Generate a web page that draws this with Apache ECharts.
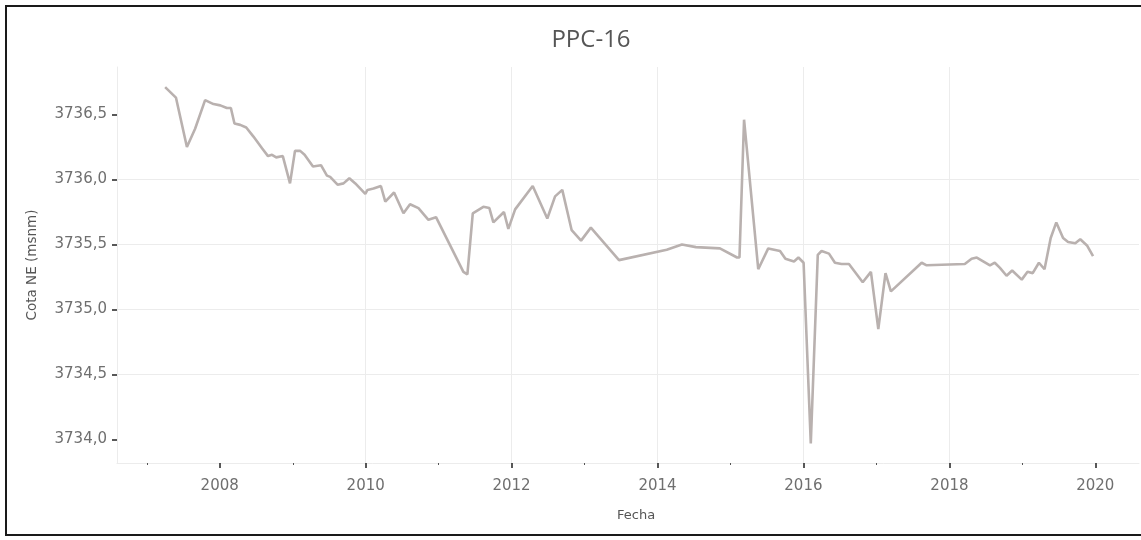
<!DOCTYPE html>
<html>
<head>
<meta charset="utf-8">
<title>PPC-16</title>
<script src="https://cdn.jsdelivr.net/npm/echarts@6/dist/echarts.min.js"></script>
<style>
  html, body { margin: 0; padding: 0; background: #ffffff; }
  #chart { width: 1141px; height: 540px; }
</style>
</head>
<body>
<div id="chart"></div>
<script>
// Piezometer PPC-16: water level elevation (Cota NE, msnm) over time
const fechas = [
  '2007-04-03','2007-05-27','2007-07-21','2007-08-31','2007-10-20','2007-12-01',
  '2008-01-04','2008-02-06','2008-02-26','2008-03-15','2008-04-13','2008-05-13',
  '2008-06-18','2008-07-31','2008-08-30','2008-09-19','2008-10-10','2008-11-12',
  '2008-12-18','2009-01-12','2009-02-07','2009-03-01','2009-04-12','2009-05-22',
  '2009-06-21','2009-07-07','2009-08-13','2009-09-12','2009-10-11','2009-11-10',
  '2009-12-30','2010-01-10','2010-02-09','2010-03-18','2010-04-09','2010-05-23',
  '2010-07-09','2010-08-11','2010-09-22','2010-11-11','2010-12-19','2011-05-05',
  '2011-05-25','2011-06-21','2011-08-13','2011-09-12','2011-10-02','2011-11-24',
  '2011-12-16','2012-01-19','2012-04-16','2012-06-28','2012-08-06','2012-09-11',
  '2012-10-28','2012-12-14','2013-02-01','2013-06-22','2014-02-16','2014-05-03',
  '2014-07-12','2014-11-09','2015-02-03','2015-02-15','2015-03-10','2015-05-20',
  '2015-07-09','2015-09-06','2015-10-03','2015-11-15','2015-12-07','2016-01-02',
  '2016-02-07','2016-03-13','2016-04-01','2016-05-08','2016-06-07','2016-07-10',
  '2016-08-16','2016-10-24','2016-12-04','2017-01-10','2017-02-15','2017-03-14',
  '2017-08-15','2017-09-09','2018-03-19','2018-04-22','2018-05-18','2018-07-23',
  '2018-08-16','2018-09-11','2018-10-14','2018-11-11','2018-12-29','2019-01-27',
  '2019-02-22','2019-03-25','2019-04-22','2019-05-23','2019-06-20','2019-07-24',
  '2019-08-18','2019-09-23','2019-10-18','2019-11-22','2019-12-21'
];

const cotaNE = [
  3736.71, 3736.63, 3736.25, 3736.39, 3736.61, 3736.58,
  3736.57, 3736.55, 3736.55, 3736.43, 3736.42, 3736.40,
  3736.33, 3736.24, 3736.18, 3736.19, 3736.17, 3736.18,
  3735.97, 3736.22, 3736.22, 3736.19, 3736.10, 3736.11,
  3736.03, 3736.02, 3735.96, 3735.97, 3736.01, 3735.97,
  3735.89, 3735.92, 3735.93, 3735.95, 3735.83, 3735.90,
  3735.74, 3735.81, 3735.78, 3735.69, 3735.71, 3735.29,
  3735.27, 3735.74, 3735.79, 3735.78, 3735.67, 3735.75,
  3735.62, 3735.77, 3735.95, 3735.70, 3735.87, 3735.92,
  3735.61, 3735.53, 3735.63, 3735.38, 3735.46, 3735.50,
  3735.48, 3735.47, 3735.40, 3735.40, 3736.46, 3735.31,
  3735.47, 3735.45, 3735.39, 3735.37, 3735.40, 3735.36,
  3733.97, 3735.42, 3735.45, 3735.43, 3735.36, 3735.35,
  3735.35, 3735.21, 3735.29, 3734.85, 3735.28, 3735.14,
  3735.36, 3735.34, 3735.35, 3735.39, 3735.40, 3735.34,
  3735.36, 3735.32, 3735.26, 3735.30, 3735.23, 3735.29,
  3735.28, 3735.36, 3735.31, 3735.55, 3735.67, 3735.55,
  3735.52, 3735.51, 3735.54, 3735.49, 3735.41
];

// Axis ticks
const yTicks = [3734.0, 3734.5, 3735.0, 3735.5, 3736.0, 3736.5];
const xMajorTicks = ['2008-01-01','2010-01-01','2012-01-01','2014-01-01','2016-01-01','2018-01-01','2020-01-01'];
const xMinorTicks = ['2007-01-01','2009-01-01','2011-01-01','2013-01-01','2015-01-01','2017-01-01','2019-01-01'];

const tituloTexto = 'PPC-16';
const ejeY = 'Cota NE (msnm)';
const ejeX = 'Fecha';

const xMin = '2006-08-05';
const xMax = '2020-08-07';
const yMin = 3733.82;
const yMax = 3736.865;

// Dates are placed on a continuous millisecond scale
const toTime = s => echarts.time.parse(s).getTime();
const fmtComa = v => Number(v).toFixed(1).replace('.', ',');

const labelFont = { fontFamily: 'DejaVu Sans', fontSize: 15, color: '#6f6f6f' };
const gridColor = '#ececec';

const chart = echarts.init(document.getElementById('chart'), null, { renderer: 'canvas' });

chart.setOption({
  animation: false,
  backgroundColor: '#ffffff',
  title: {
    text: tituloTexto,
    left: 586,
    top: 23,
    textAlign: 'center',
    textStyle: { fontFamily: 'Open Sans', fontSize: 24, fontWeight: 'normal', color: '#555555' }
  },
  grid: { left: 117, right: 2, top: 67, bottom: 77, containLabel: false },
  xAxis: [
    {
      type: 'value',
      min: toTime(xMin),
      max: toTime(xMax),
      axisLine: { show: true, lineStyle: { color: gridColor, width: 1 } },
      axisTick: {
        show: true,
        customValues: xMajorTicks.map(toTime),
        length: 5,
        lineStyle: { color: '#222222', width: 1.5 }
      },
      axisLabel: {
        customValues: xMajorTicks.map(toTime),
        margin: 16,
        formatter: v => String(new Date(v).getUTCFullYear()),
        ...labelFont
      },
      splitLine: { show: true, showMinLine: false, showMaxLine: false, lineStyle: { color: gridColor, width: 1 } }
    },
    {
      type: 'value',
      min: toTime(xMin),
      max: toTime(xMax),
      position: 'bottom',
      axisLine: { show: false },
      axisTick: {
        show: true,
        customValues: xMinorTicks.map(toTime),
        length: 2,
        lineStyle: { color: '#555555', width: 1 }
      },
      axisLabel: { show: false },
      splitLine: { show: false }
    }
  ],
  yAxis: {
    type: 'value',
    min: yMin,
    max: yMax,
    name: ejeY,
    nameLocation: 'middle',
    nameGap: 78,
    nameRotate: 90,
    nameTextStyle: { fontFamily: 'DejaVu Sans', fontSize: 13.5, color: '#555555' },
    axisLine: { show: true, lineStyle: { color: gridColor, width: 1 } },
    axisTick: {
      show: true,
      customValues: yTicks,
      length: 5,
      lineStyle: { color: '#222222', width: 1.5 }
    },
    axisLabel: {
      customValues: yTicks,
      margin: 10,
      formatter: fmtComa,
      ...labelFont
    },
    splitLine: { show: true, showMinLine: false, showMaxLine: false, lineStyle: { color: gridColor, width: 1 } }
  },
  series: [
    {
      type: 'line',
      name: ejeY,
      xAxisIndex: 0,
      data: fechas.map((f, i) => [toTime(f), cotaNE[i]]),
      showSymbol: false,
      symbol: 'none',
      lineStyle: { color: '#b9b1af', width: 2.6 },
      silent: true
    }
  ],
  graphic: [
    {
      type: 'text',
      left: 617,
      top: 509,
      style: {
        text: ejeX,
        x: 0,
        align: 'center',
        fontFamily: 'DejaVu Sans',
        fontSize: 13,
        fill: '#555555'
      },
      silent: true
    },
    {
      type: 'rect',
      shape: { x: 6, y: 6, width: 1141, height: 529 },
      style: { fill: 'none', stroke: '#1a1a1a', lineWidth: 2 },
      silent: true,
      z: 100
    }
  ]
});
</script>
</body>
</html>
